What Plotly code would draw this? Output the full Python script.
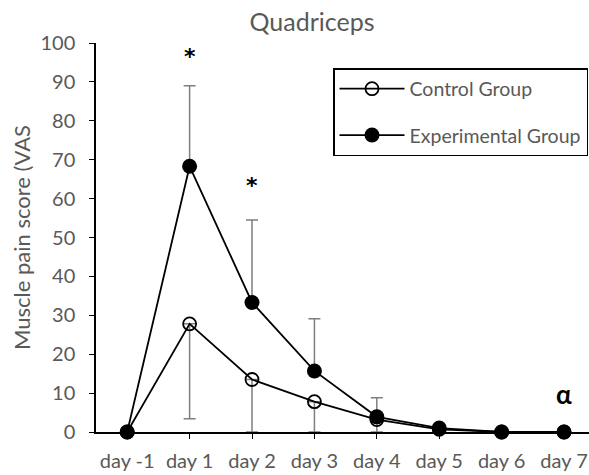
import plotly.graph_objects as go

days = ["day -1", "day 1", "day 2", "day 3", "day 4", "day 5", "day 6", "day 7"]
control = [0, 27.8, 13.5, 7.8, 3.2, 0.7, 0, 0]
control_err_minus = [0, 24.4, 13.5, 7.8, 3.2, 0, 0, 0]
experimental = [0, 68.3, 33.3, 15.7, 3.9, 1.0, 0, 0]
experimental_err_plus = [0, 20.7, 21.2, 13.4, 4.9, 0, 0, 0]
sig_days = ["day 1", "day 2"]
sig_y = [97.6, 64.4]
alpha_day = "day 7"
alpha_y = 9.5

FONT = "Lato"
GRAY = "#595959"
ERR = "#7f7f7f"

fig = go.Figure()

# error bars (drawn behind)
fig.add_trace(go.Scatter(
    x=days, y=control, mode="markers", marker=dict(size=1, opacity=0),
    error_y=dict(type="data", symmetric=False, array=[0]*len(days),
                 arrayminus=control_err_minus, color=ERR, thickness=1.5, width=6),
    showlegend=False, hoverinfo="skip", cliponaxis=False))
fig.add_trace(go.Scatter(
    x=days, y=experimental, mode="markers", marker=dict(size=1, opacity=0),
    error_y=dict(type="data", symmetric=False, array=experimental_err_plus,
                 arrayminus=[0]*len(days), color=ERR, thickness=1.5, width=6),
    showlegend=False, hoverinfo="skip", cliponaxis=False))

fig.add_trace(go.Scatter(
    x=days, y=control, mode="lines+markers", name="Control Group",
    line=dict(color="black", width=1.8),
    marker=dict(symbol="circle-open", size=13, color="black", line=dict(width=1.8)),
    legendgroup="c", cliponaxis=False))
fig.add_trace(go.Scatter(
    x=days, y=experimental, mode="lines+markers", name="Experimental Group",
    line=dict(color="black", width=1.8),
    marker=dict(symbol="circle", size=15, color="black"),
    legendgroup="e", cliponaxis=False))

for d, yv in zip(sig_days, sig_y):
    fig.add_annotation(x=d, y=yv, text="<b>*</b>", showarrow=False, yanchor="middle",
                       yshift=-4,
                       font=dict(family="DejaVu Sans", size=22, color="black"))
fig.add_annotation(x=alpha_day, y=alpha_y, text="<b>α</b>", showarrow=False,
                   yshift=1,
                   font=dict(family=FONT, size=26, color="black"))

fig.update_layout(
    width=589, height=475,
    margin=dict(l=96, r=0, t=43, b=43),
    paper_bgcolor="white", plot_bgcolor="white",
    font=dict(family=FONT, size=20, color=GRAY),
    title=dict(text="Quadriceps", x=312/589, xref="container", xanchor="center",
               y=1-22/475, yref="container", yanchor="middle",
               font=dict(family=FONT, size=25, color=GRAY)),
    legend=dict(x=(333-96)/493, y=(432-68)/389, xanchor="left", yanchor="top",
                bgcolor="white", bordercolor="black", borderwidth=1.5,
                font=dict(family=FONT, size=19.5, color=GRAY),
                itemwidth=65,
                tracegroupgap=18, traceorder="grouped"),
    showlegend=True,
)
fig.update_xaxes(type="category", range=[-0.5, 7.4], showline=True, linecolor="black",
                 linewidth=1.5, ticks="outside", ticklen=5, tickcolor="black",
                 ticklabelstandoff=5,
                 showgrid=False, zeroline=False, tickfont=dict(size=20, color=GRAY))
fig.update_yaxes(range=[0, 100], dtick=10, showline=True, linecolor="black",
                 linewidth=1.5, ticks="outside", ticklen=5, tickcolor="black",
                 ticklabelstandoff=10,
                 showgrid=False, zeroline=False, tickfont=dict(size=20, color=GRAY),
                 title=dict(text="Muscle pain score (VAS", font=dict(size=22, color=GRAY),
                            standoff=4))

fig.write_html("out.html")
